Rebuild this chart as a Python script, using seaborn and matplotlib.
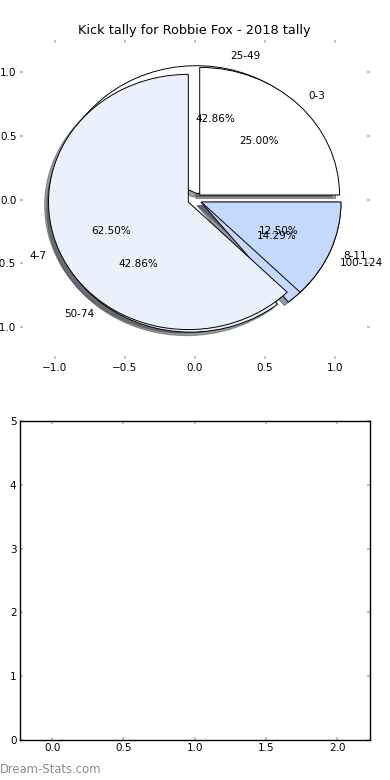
import matplotlib
matplotlib.use('Agg')
import matplotlib.pyplot as plt
import seaborn as sns

# kick tallies (count of games per bucket)
tally_labels = ['0-3', '4-7', '8-11']
tally_counts = [2, 5, 1]
# metres tallies
range_labels = ['25-49', '50-74', '100-124']
range_counts = [3, 3, 1]

slice_colors = ['#ffffff', '#eaf1fd', '#c5d9fc']
title = 'Kick tally for Robbie Fox - 2018 tally'

sns.set_theme(style='ticks', rc={
    'font.size': 7.5,
    'text.color': 'black',
    'axes.labelcolor': 'black',
    'xtick.direction': 'in',
    'ytick.direction': 'in',
    'xtick.color': '#bdbdbd',
    'ytick.color': '#bdbdbd',
    'xtick.labelcolor': 'black',
    'ytick.labelcolor': 'black',
    'xtick.labelsize': 7.5,
    'ytick.labelsize': 7.5,
    'xtick.major.size': 2.5,
    'ytick.major.size': 2.5,
    'xtick.major.pad': 2.5,
    'ytick.major.pad': 2.5,
    'xtick.top': True,
    'ytick.right': True,
    'axes.edgecolor': 'black',
    'axes.linewidth': 1.0,
})
plt.rcParams['font.family'] = ['DejaVu Sans']

fig = plt.figure(figsize=(3.9, 7.8), dpi=100)
ax1 = fig.add_axes([0.0513, 0.5397, 0.8962, 0.409])
ax2 = fig.add_axes([0.0513, 0.0513, 0.8962, 0.409])

wedge_kw = dict(edgecolor='black', linewidth=0.7)
shadow_kw = dict(ox=-0.02, oy=-0.02, shade=0.75)

# second pie goes underneath the first
ax1.pie(range_counts, labels=range_labels, colors=slice_colors,
        explode=[0.05] * len(range_counts), autopct='%1.2f%%',
        shadow=shadow_kw, startangle=0, wedgeprops=wedge_kw,
        textprops=dict(fontsize=7.5, color='black'))
ax1.pie(tally_counts, labels=tally_labels, colors=slice_colors,
        explode=[0.05] * len(tally_counts), autopct='%1.2f%%',
        shadow=shadow_kw, startangle=0, wedgeprops=wedge_kw,
        textprops=dict(fontsize=7.5, color='black'))

ax1.set_aspect('auto')
ax1.set_xlim(-1.25, 1.25)
ax1.set_ylim(-1.25, 1.25)
ax1.set_xticks([-1.0, -0.5, 0.0, 0.5, 1.0])
ax1.set_yticks([-1.0, -0.5, 0.0, 0.5, 1.0])
ax1.set_frame_on(False)
ax1.set_title(title, fontsize=9.3, pad=4.5, color='black')

# empty lower panel
ax2.set_xlim(-0.225, 2.225)
ax2.set_ylim(0, 5)
ax2.set_xticks([0.0, 0.5, 1.0, 1.5, 2.0])
ax2.set_yticks([0, 1, 2, 3, 4, 5])

fig.text(0.0, 0.013, 'Dream-Stats.com', color='#8c8c8c', fontsize=8.4,
         ha='left', va='center')

fig.savefig('out.png', dpi=100)
